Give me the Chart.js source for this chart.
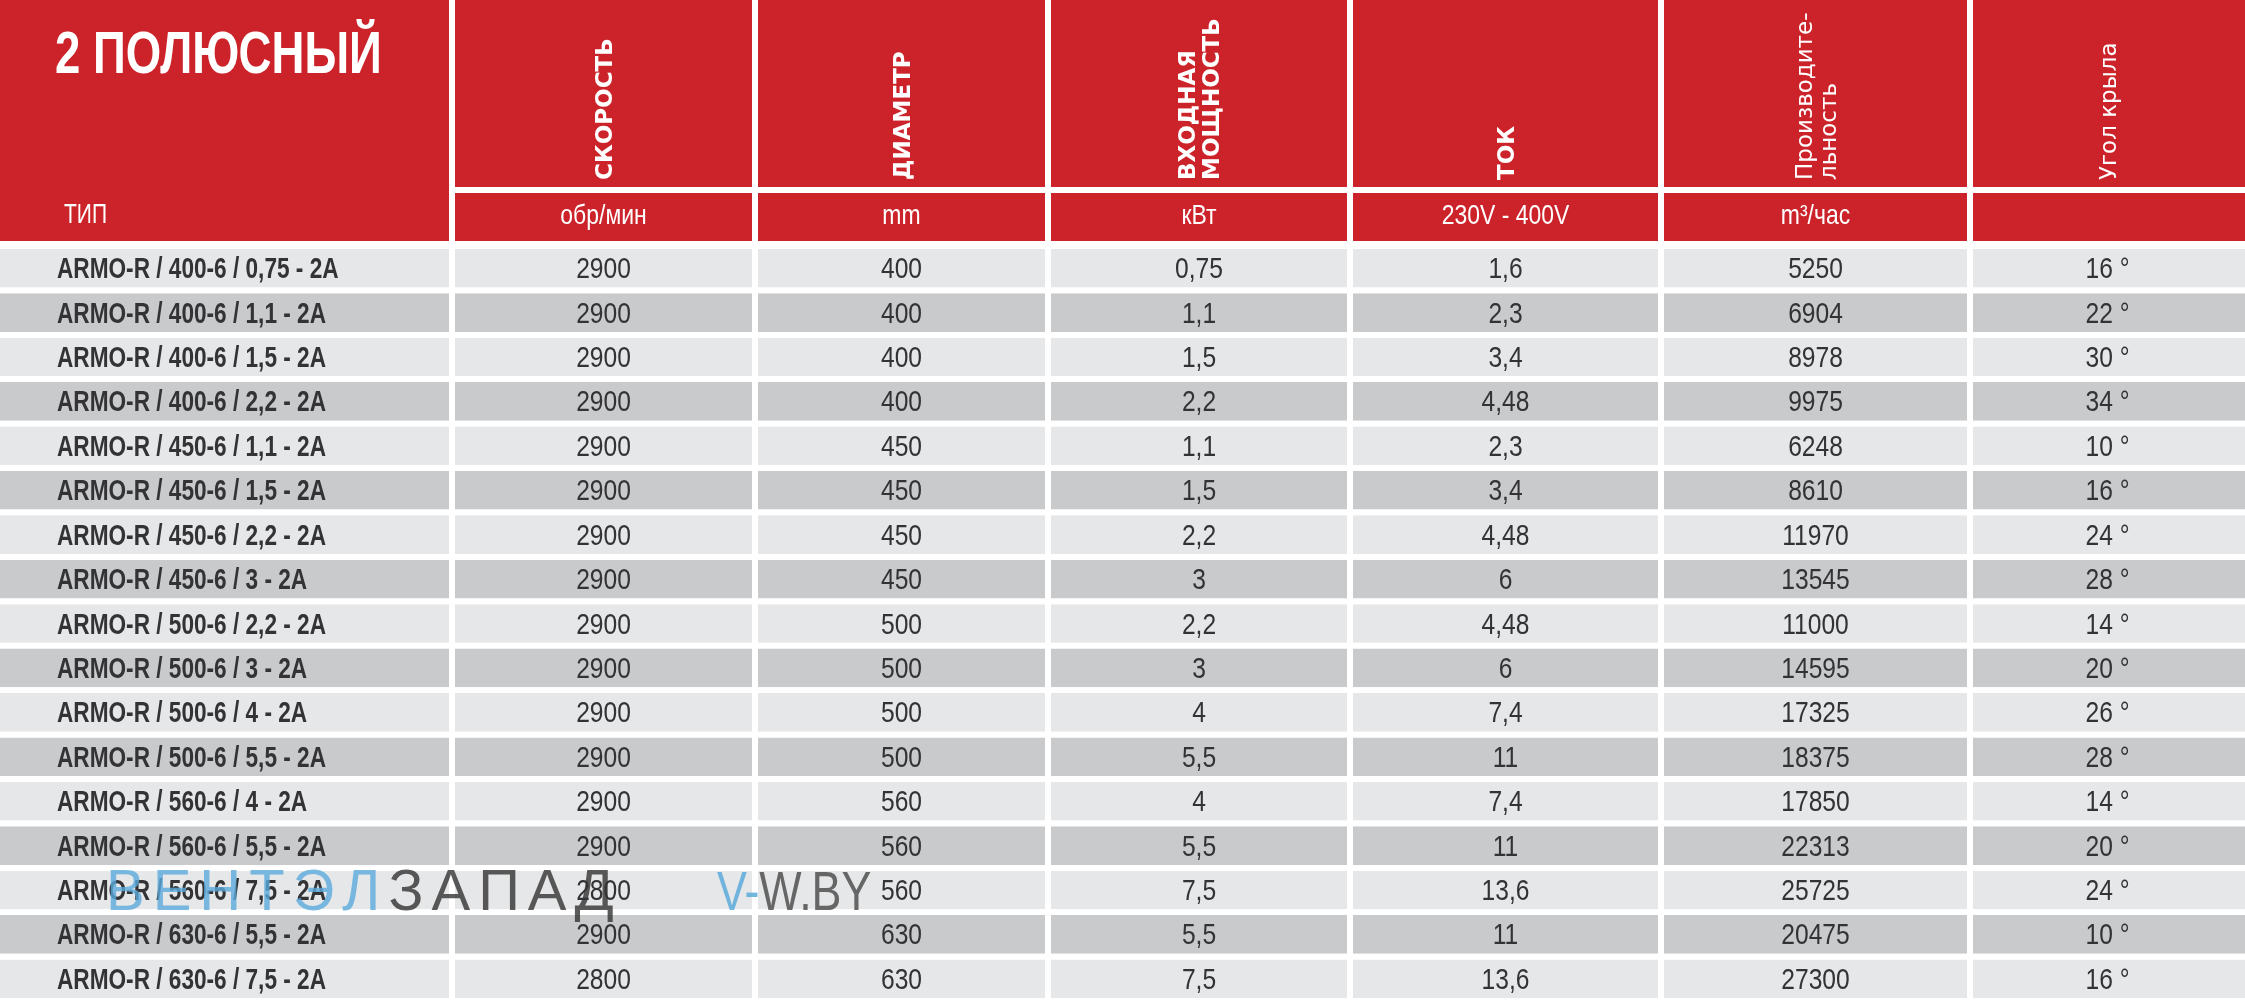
<!DOCTYPE html>
<html><head><meta charset="utf-8">
<script src="https://cdn.jsdelivr.net/npm/chart.js@4/dist/chart.umd.min.js"></script>
<style>html,body{margin:0;padding:0;background:#fff}#w{width:2245px;height:1001px}</style>
</head><body><div id="w"><canvas id="c"></canvas></div>
<script>
const title = "2 ПОЛЮСНЫЙ";
const typeHeader = "ТИП";
const columnHeaders = [["СКОРОСТЬ"],["ДИАМЕТР"],["ВХОДНАЯ","МОЩНОСТЬ"],["ТОК"],["Производите-","льность"],["Угол крыла"]];
const units = ["обр/мин","mm","кВт","230V - 400V","m³/час",""];
const types = ["ARMO-R / 400-6 / 0,75 - 2A","ARMO-R / 400-6 / 1,1 - 2A","ARMO-R / 400-6 / 1,5 - 2A","ARMO-R / 400-6 / 2,2 - 2A","ARMO-R / 450-6 / 1,1 - 2A","ARMO-R / 450-6 / 1,5 - 2A","ARMO-R / 450-6 / 2,2 - 2A","ARMO-R / 450-6 / 3 - 2A","ARMO-R / 500-6 / 2,2 - 2A","ARMO-R / 500-6 / 3 - 2A","ARMO-R / 500-6 / 4 - 2A","ARMO-R / 500-6 / 5,5 - 2A","ARMO-R / 560-6 / 4 - 2A","ARMO-R / 560-6 / 5,5 - 2A","ARMO-R / 560-6 / 7,5 - 2A","ARMO-R / 630-6 / 5,5 - 2A","ARMO-R / 630-6 / 7,5 - 2A"];
const speed = ["2900","2900","2900","2900","2900","2900","2900","2900","2900","2900","2900","2900","2900","2900","2800","2900","2800"];
const diameter = ["400","400","400","400","450","450","450","450","500","500","500","500","560","560","560","630","630"];
const power = ["0,75","1,1","1,5","2,2","1,1","1,5","2,2","3","2,2","3","4","5,5","4","5,5","7,5","5,5","7,5"];
const current = ["1,6","2,3","3,4","4,48","2,3","3,4","4,48","6","4,48","6","7,4","11","7,4","11","13,6","11","13,6"];
const airflow = ["5250","6904","8978","9975","6248","8610","11970","13545","11000","14595","17325","18375","17850","22313","25725","20475","27300"];
const angle = ["16°","22°","30°","34°","10°","16°","24°","28°","14°","20°","26°","28°","14°","20°","24°","10°","16°"];

const columns = [types, speed, diameter, power, current, airflow, angle];
const edges = [0, 452, 755, 1048, 1350, 1661, 1970, 2245]; // column boundaries in x-units
const rowLight = "#e6e7e8", rowDark = "#c9cacc", red = "#cc2229";
const SANS = "'Liberation Sans',Arial,sans-serif";

const datasets = columns.map((col, ci) => ({
  data: col.map(() => [edges[ci], edges[ci+1]]),
  backgroundColor: col.map((_, ri) => ri % 2 ? rowDark : rowLight),
  borderColor: "#ffffff",
  borderWidth: {left: ci === 0 ? 0 : 3, right: ci === 6 ? 0 : 3, top: 0, bottom: 0},
  borderSkipped: false, grouped: false,
  barPercentage: 0.87, categoryPercentage: 1
}));

function cond(ctx, text, x, y, sx, align) {
  ctx.save();
  const w = ctx.measureText(text).width * sx;
  let x0 = align === "center" ? x - w / 2 : x;
  ctx.translate(x0, y); ctx.scale(sx, 1);
  ctx.textAlign = "left"; ctx.fillText(text, 0, 0);
  ctx.restore();
}

const tablePlugin = {
  id: "table",
  afterDatasetsDraw(chart) {
    const ctx = chart.ctx, xs = chart.scales.x, ys = chart.scales.y;
    const X = v => xs.getPixelForValue(v);
    ctx.save();
    ctx.fillStyle = red;
    ctx.fillRect(X(edges[0]), 0, X(edges[1]) - X(edges[0]) - 3, 241);
    for (let i = 1; i < 7; i++) {
      const l = X(edges[i]) + 3, r = X(edges[i+1]) - (i === 6 ? 0 : 3);
      ctx.fillRect(l, 0, r - l, 187);
      ctx.fillRect(l, 193, r - l, 48);
    }
    ctx.fillStyle = "#fff";
    ctx.textBaseline = "alphabetic";
    ctx.font = "bold 60px " + SANS;
    cond(ctx, title, 55, 73, 0.76, "left");
    ctx.font = "28px " + SANS;
    cond(ctx, typeHeader, 64, 223, 0.75, "left");
    for (let i = 0; i < 6; i++) {
      const cx = (X(edges[i+1]) + X(edges[i+2])) / 2;
      ctx.font = "28px " + SANS;
      cond(ctx, units[i], cx, 224, 0.82, "center");
      const lines = columnHeaders[i];
      const prod = i === 4 || i === 5;
      ctx.font = (prod ? "" : "bold ") + "23px 'DejaVu Sans',sans-serif";
      ctx.save();
      ctx.translate(cx, 180);
      ctx.rotate(-Math.PI / 2);
      ctx.textAlign = "left";
      const lh = 24, n = lines.length;
      lines.forEach((t, k) => ctx.fillText(t, 0, 8 + (k - (n - 1) / 2) * lh));
      ctx.restore();
    }
    ctx.fillStyle = "#333335";
    columns.forEach((col, ci) => {
      col.forEach((v, ri) => {
        const y = ys.getPixelForValue(ri) + 10;
        if (ci === 0) { ctx.font = "bold 29px " + SANS; cond(ctx, v, 57, y, 0.78, "left"); }
        else {
          ctx.font = "30px " + SANS;
          const cx = (X(edges[ci]) + X(edges[ci+1])) / 2;
          cond(ctx, ci === 6 ? v.replace("°", " °") : v, cx, y, 0.82, "center");
        }
      });
    });
    ctx.font = "58px " + SANS;
    const wy = ys.getPixelForValue(14) + 20;
    const spaced = (s, x, c) => { ctx.fillStyle = c; for (const ch of s) { ctx.fillText(ch, x, wy); x += ctx.measureText(ch).width + 8; } return x; };
    ctx.textAlign = "left";
    let x = spaced("ВЕНТЭЛ", 106, "rgba(90,170,220,0.8)");
    spaced("ЗАПАД", x, "rgba(50,50,50,0.8)");
    ctx.font = "56px " + SANS;
    ctx.fillStyle = "rgba(90,170,220,0.85)"; cond(ctx, "V-", 717, wy, 0.8, "left");
    ctx.fillStyle = "rgba(70,70,70,0.8)"; cond(ctx, "W.BY", 717 + ctx.measureText("V-").width * 0.8, wy, 0.8, "left");
    ctx.restore();
  }
};

new Chart(document.getElementById("c"), {
  type: "bar",
  data: { labels: types, datasets },
  options: {
    indexAxis: "y", responsive: true, maintainAspectRatio: false, animation: false,
    layout: { padding: { top: 246, left: 0, right: 0, bottom: 0 } },
    plugins: { legend: { display: false }, tooltip: { enabled: false } },
    scales: {
      x: { type: "linear", min: 0, max: 2245, display: false },
      y: { display: false, grid: { display: false } }
    }
  },
  plugins: [tablePlugin]
});
</script></body></html>
